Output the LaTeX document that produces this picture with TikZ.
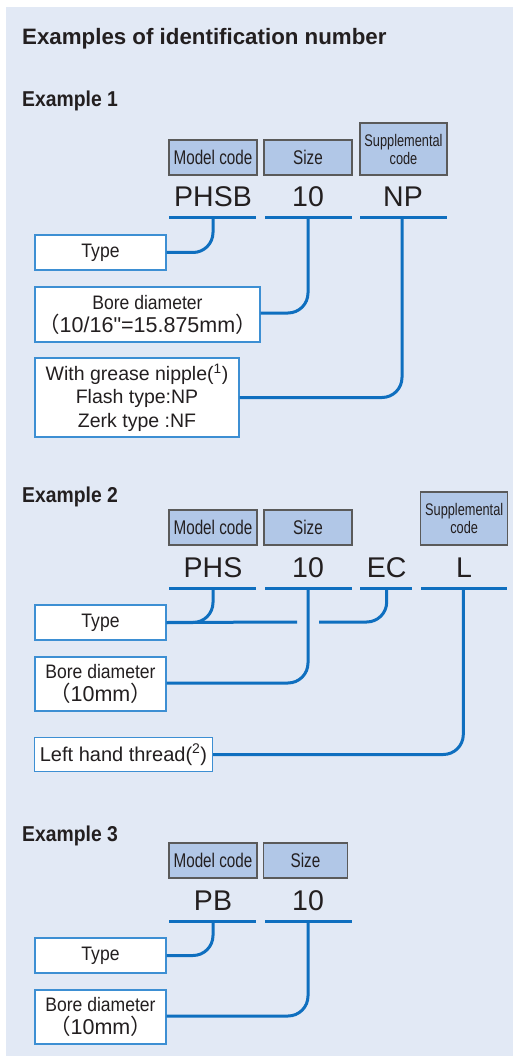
\documentclass[tikz,border=0pt]{standalone}
\usepackage{fontspec}
\setmainfont{Liberation Sans}
\newfontfamily\hdrf{Liberation Sans}[FakeStretch=0.77]
\newfontfamily\supf{Liberation Sans}[FakeStretch=0.76]
\newfontfamily\lblf{Liberation Sans}[FakeStretch=0.9]
\newfontfamily\exf{Liberation Sans}[FakeStretch=0.9]
\newfontfamily\cjkf{Noto Sans CJK JP}
\definecolor{bgc}{HTML}{E2E9F5}
\definecolor{hdrfill}{HTML}{B1C7E7}
\definecolor{hdrborder}{HTML}{5A5A5A}
\definecolor{lblborder}{HTML}{3D8FD3}
\definecolor{conncol}{HTML}{0F6FBF}
\definecolor{txt}{HTML}{231F20}
\begin{document}
\begin{tikzpicture}[x=1pt,y=-1pt,
  hdr/.style={draw=hdrborder, fill=hdrfill, line width=1.2pt, inner sep=0pt,
    minimum height=35pt, minimum width=88pt, text=txt,
    font=\hdrf\fontsize{19.8}{22}\selectfont},
  supp/.style={hdr, minimum height=52pt, minimum width=87pt, align=center,
    font=\supf\fontsize{16.8}{18}\selectfont},
  code/.style={anchor=base, inner sep=0pt, text=txt,
    font=\fontsize{28.5}{30}\selectfont},
  lbl/.style={draw=lblborder, fill=white, line width=1.3pt, inner sep=0pt,
    align=center, text=txt, font=\lblf\fontsize{19.5}{23}\selectfont},
  conn/.style={draw=conncol, line width=3pt, rounded corners=20pt},
  uline/.style={draw=conncol, line width=3pt},
  ttl/.style={anchor=base west, inner sep=0pt, text=txt,
    font=\bfseries\fontsize{22.3}{24}\selectfont},
  extl/.style={anchor=base west, inner sep=0pt, text=txt,
    font=\exf\bfseries\fontsize{21.5}{24}\selectfont}
]
\useasboundingbox (0,0) rectangle (513,1056);
\fill[bgc] (6,7) rectangle (513,1056);

\node[ttl] (title) at (22,45) {Examples of identification number};

% ---------------- Example 1
\node[extl] (ex1) at (22,107) {Example 1};
\node[hdr] (m1) at (213,157.5) {Model code};
\node[hdr] (s1) at (308,157.5) {Size};
\node[supp] (p1) at (403.5,149) {Supplemental\\code};
\node[code] (c11) at (213,207) {PHSB};
\node[code] (c12) at (308,207) {10};
\node[code] (c13) at (403,207) {NP};
\draw[uline] (169,218) -- (256,218);
\draw[uline] (265,218) -- (352,218);
\draw[uline] (360,218) -- (447,218);
\coordinate (u11) at (213,218);
\coordinate (u12) at (308,218);
\coordinate (u13) at (402,218);
\node[lbl, minimum width=131pt, minimum height=35pt] (ty1) at (100.5,252.5) {Type};
\node[lbl, minimum width=225pt, minimum height=55pt] (bo1) at (147.5,314.5)
  {Bore diameter\\{\normalfont\fontsize{21.5}{23}\selectfont{\cjkf （}10/16\textquotedbl=15.875mm{\cjkf ）}}};
\node[lbl, minimum width=204pt, minimum height=79pt, font=\fontsize{19.5}{23.2}\selectfont] (gr1) at (137,397.5)
  {With grease nipple(\textsuperscript{1})\\Flash type:NP\\Zerk type :NF};
\draw[conn] (ty1.east) -| (u11);
\draw[conn] (bo1.east |- 0,313) -| (u12);
\draw[conn] (gr1.east) -| (u13);

% ---------------- Example 2
\node[extl] (ex2) at (22,502.7) {Example 2};
\node[hdr] (m2) at (213,527.5) {Model code};
\node[hdr] (s2) at (308,527.5) {Size};
\node[supp, minimum height=53pt] (p2) at (464.2,518.5) {Supplemental\\code};
\node[code] (c21) at (213,577.3) {PHS};
\node[code] (c22) at (308,577.3) {10};
\node[code] (c23) at (386.7,577.3) {EC};
\node[code] (c24) at (464,577.3) {L};
\draw[uline] (169,588) -- (256,588);
\draw[uline] (265,588) -- (352,588);
\draw[uline] (360,588) -- (412,588);
\draw[uline] (421,588) -- (507,588);
\coordinate (u21) at (213,588);
\coordinate (u22) at (308,588);
\coordinate (u23) at (386.7,588);
\coordinate (u24) at (463.3,588);
\coordinate (gapL) at (297,622);
\coordinate (gapR) at (319,622);
\node[lbl, minimum width=131pt, minimum height=35pt] (ty2) at (100.5,622.5) {Type};
\node[lbl, minimum width=131pt, minimum height=54pt] (bo2) at (100.5,684)
  {Bore diameter\\{\normalfont\fontsize{21.5}{22}\selectfont{\cjkf （}10mm{\cjkf ）}}};
\node[lbl, minimum width=178pt, minimum height=34.5pt, font=\fontsize{20}{23}\selectfont] (lh2) at (123.5,754.5)
  {Left hand thread(\textsuperscript{2})};
\draw[uline] (ty2.east) -- (gapL);
\draw[conn] (u21) |- (ty2.east);
\draw[conn] (u23) |- (gapR);
\draw[conn] (bo2.east |- 0,683) -| (u22);
\draw[conn] (lh2.east) -| (u24);

% ---------------- Example 3
\node[extl] (ex3) at (22,841.7) {Example 3};
\node[hdr] (m3) at (213,860.5) {Model code};
\node[hdr, minimum width=84pt] (s3) at (305.5,860.5) {Size};
\node[code] (c31) at (213,910) {PB};
\node[code] (c32) at (308,910) {10};
\draw[uline] (169,921) -- (256,921);
\draw[uline] (265,921) -- (352,921);
\coordinate (u31) at (213,921);
\coordinate (u32) at (308,921);
\node[lbl, minimum width=131pt, minimum height=35pt] (ty3) at (100.5,955.5) {Type};
\node[lbl, minimum width=131pt, minimum height=54pt] (bo3) at (100.5,1017)
  {Bore diameter\\{\normalfont\fontsize{21.5}{22}\selectfont{\cjkf （}10mm{\cjkf ）}}};
\draw[conn] (ty3.east) -| (u31);
\draw[conn] (bo3.east |- 0,1016) -| (u32);
\end{tikzpicture}
\end{document}
